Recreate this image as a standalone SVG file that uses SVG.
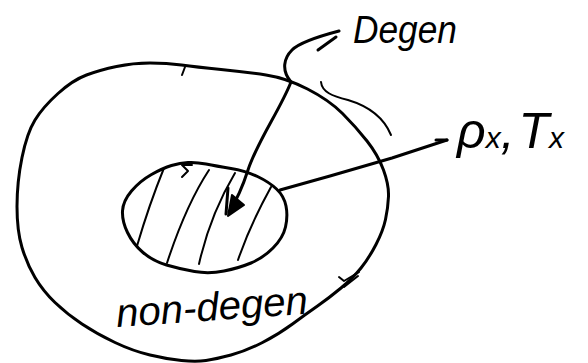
<svg xmlns="http://www.w3.org/2000/svg" width="588" height="363" viewBox="0 0 588 363">
<style>
.s{fill:none;stroke:#000;stroke-width:3;stroke-linecap:round;stroke-linejoin:round}
.h{fill:none;stroke:#000;stroke-width:2;stroke-linecap:round;stroke-linejoin:round}
.t{font-family:"Liberation Sans",sans-serif;font-style:italic;fill:#000}
</style>
<rect width="588" height="363" fill="#fff"/>
<g id="non-degen-region">
<path class="s" d="M17,206.5 Q17,182 22,157.5 Q27,133 35,120 Q43,107 58,93.5 Q73,80 86.5,75 Q100,70 116.5,66.5 Q133,63 150,63 Q167,63 181.5,65 Q196,67 221,69.5 Q246,72 266,75 Q286,78 307.5,89 Q329,100 342.5,113.5 Q356,127 367,141 Q378,155 383.5,170 Q389,185 388.5,196.5 Q388,208 385.5,219.5 Q383,231 376,244.5 Q369,258 361,268 Q353,278 341,288 Q329,298 317.5,306 Q306,314 292.5,324 Q279,334 262.5,342.5 Q246,351 231,355 Q216,359 206,360.5 Q196,362 181.5,360.5 Q167,359 150,355 Q133,351 115,342.5 Q97,334 82,324 Q67,314 55,302.5 Q43,291 35,277.5 Q27,264 22,247.5 Q17,231 17,206.5 Z"/>
<path class="h" d="M185,67 L182,75"/>
<path class="h" d="M339,277 L344,281 L359,272 M358,276 L344,287"/>
<path class="h" d="M321,82 C322,92 332,96 348,100 C368,106 384,118 391,135"/>
<text class="t" x="117" y="327" font-size="40" textLength="192" lengthAdjust="spacingAndGlyphs" transform="rotate(-4 117 327)">non-degen</text>
</g>
<g id="degen-region">
<path class="s" d="M188,162.5 Q196,162 206,164 Q216,166 231,168.5 Q246,171 257.5,176.5 Q269,182 276.5,189 Q284,196 286,206 Q288,216 285.5,227 Q283,238 273,248 Q263,258 251,263 Q239,268 224,271 Q209,274 194.5,271.5 Q180,269 166.5,265 Q153,261 143,252.5 Q133,244 127.5,232.5 Q122,221 122.5,211 Q123,201 131.5,191 Q140,181 151.5,174.5 Q163,168 171.5,165.5 Q180,163 188,162.5 Z"/>
<path class="h" d="M192,165 L182,165 L188,171 L182,177"/>
<path class="h" d="M164,168 Q149,205 137,246"/>
<path class="h" d="M209,170 Q186,205 167,263"/>
<path class="h" d="M235,173 Q210,215 199,264"/>
<path class="h" d="M271,187 Q250,225 238,260"/>
</g>
<g id="label-degen">
<text class="t" x="353" y="43" font-size="38" textLength="104" lengthAdjust="spacingAndGlyphs">Degen</text>
</g>
<g id="label-rho-T">
<text class="t" x="457" y="148" font-size="50">ρ<tspan font-size="30">x</tspan>,<tspan dx="4">T</tspan><tspan font-size="30">x</tspan></text>
</g>
<g id="connectors">
<path class="s" d="M339,31 C320,36 300,42 292,50 C284,58 281,70 291,82 C280,110 258,140 248,170 Q240,195 229,212"/>
<path class="s" d="M318,50 L336,37"/>
<path class="s" d="M228,188 L226,214"/>
<polygon points="228,216 244,205 232,195" fill="#000" stroke="#000" stroke-width="2" stroke-linejoin="round"/>
<path class="s" d="M280,190 L330,176 L392,158 L447,140"/>
<path class="s" d="M436,140 L447,140"/>
</g>
</svg>
